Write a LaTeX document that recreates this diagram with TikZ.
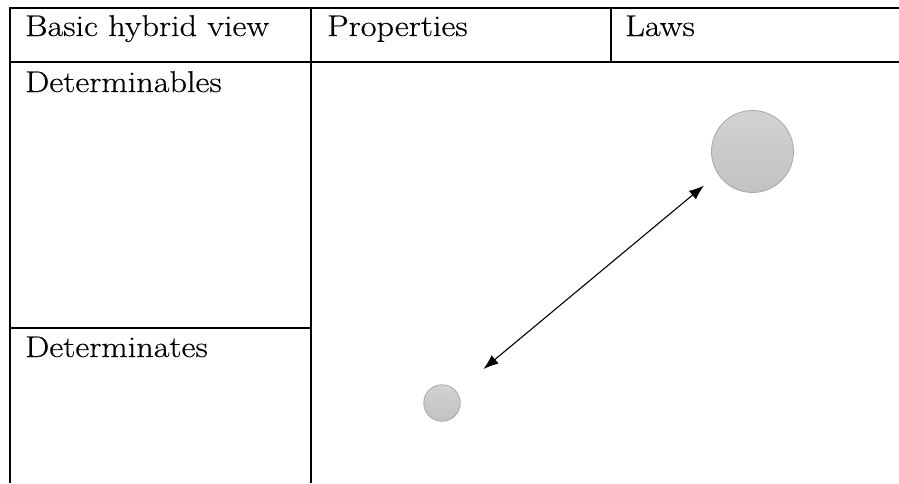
\documentclass[tikz,border=0pt]{standalone}
\usepackage{fontspec}
\setmainfont{Latin Modern Roman}[FakeBold=0.4]
\usetikzlibrary{arrows.meta}
\definecolor{balltop}{HTML}{D2D2D2}
\definecolor{ballbot}{HTML}{C2C2C2}
\definecolor{ballline}{HTML}{A8A8A8}
\tikzset{
  rule/.style={line width=2pt, black},
  cell/.style={anchor=base west, inner sep=0pt, font=\fontsize{30}{36}\selectfont},
  ball/.style={circle, draw=ballline, line width=0.8pt, top color=balltop, bottom color=ballbot, inner sep=0pt},
  link/.style={line width=1.1pt, {Latex[length=15pt,width=11pt]}-{Latex[length=15pt,width=11pt]}}
}
\newcommand{\wide}[1]{\scalebox{1.14}[1]{#1}}
\begin{document}
\begin{tikzpicture}[x=1pt,y=-1pt]
\useasboundingbox (0,0) rectangle (899,483);
% table rules
\draw[rule] (899,8) -- (10,8) -- (10,483);
\draw[rule] (10,62) -- (899,62);
\draw[rule] (311,8) -- (311,483);
\draw[rule] (611,8) -- (611,62);
\draw[rule] (10,328) -- (311,328);
% texts
\node[cell] (h1) at (25,36) {\wide{Basic hybrid view}};
\node[cell] (h2) at (327,36) {\wide{Properties}};
\node[cell] (h3) at (625,36) {\wide{Laws}};
\node[cell] (r1) at (25,92) {\wide{Determinables}};
\node[cell] (r2) at (25,357) {\wide{Determinates}};
% balls
\node[ball, minimum size=82pt] (big) at (752.5,151.5) {};
\node[ball, minimum size=36.5pt] (small) at (442,403) {};
\coordinate (a) at (483.5,369);
\coordinate (b) at (704,185.5);
\draw[link] (a) -- (b);
\end{tikzpicture}
\end{document}
